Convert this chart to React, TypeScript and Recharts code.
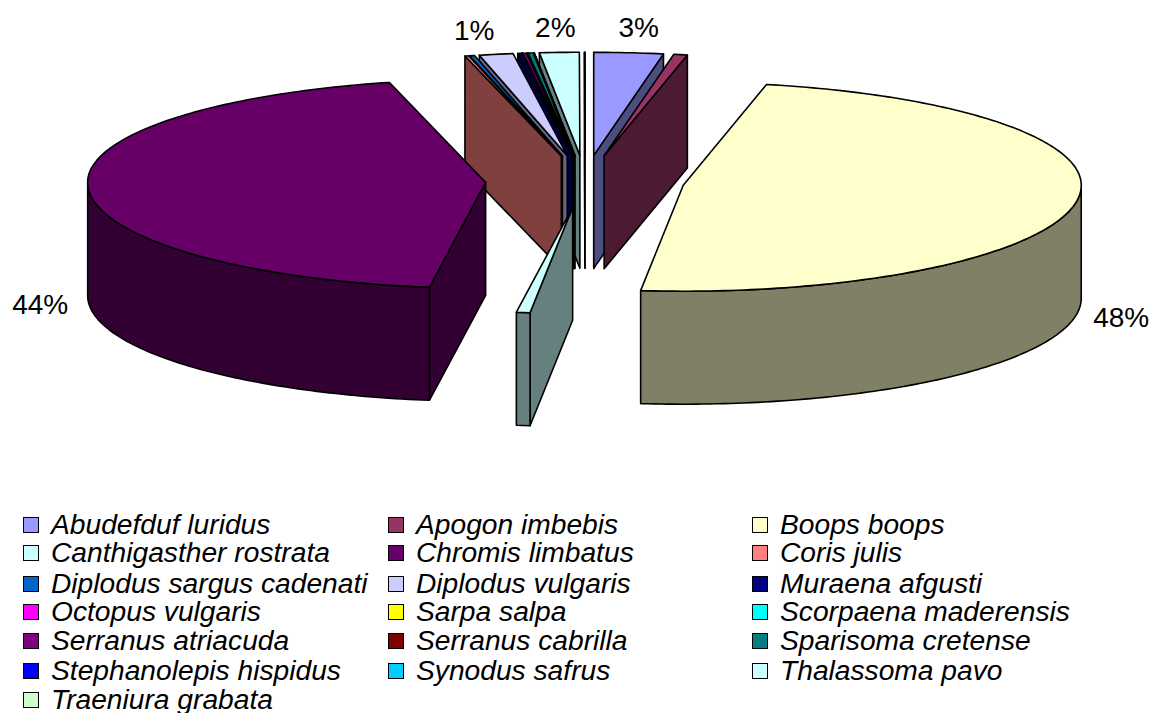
import { Legend, Pie, PieChart } from "recharts"

const speciesNames = [
  "Abudefduf luridus", "Apogon imbebis", "Boops boops",
  "Canthigasther rostrata", "Chromis limbatus", "Coris julis",
  "Diplodus sargus cadenati", "Diplodus vulgaris", "Muraena afgusti",
  "Octopus vulgaris", "Sarpa salpa", "Scorpaena maderensis",
  "Serranus atriacuda", "Serranus cabrilla", "Sparisoma cretense",
  "Stephanolepis hispidus", "Synodus safrus", "Thalassoma pavo",
  "Traeniura grabata",
]
const speciesShares = [
  2.8, 0.55, 48.3, 0.55, 43.8, 0.15, 0.2, 1.37, 0.14, 0.01, 0.01, 0.01, 0.14,
  0.02, 0.2, 0.01, 0.01, 1.6, 0.02,
]
const speciesColors = [
  "#9999FF", "#993366", "#FFFFCC", "#CCFFFF", "#660066", "#FF8080", "#0066CC",
  "#CCCCFF", "#000080", "#FF00FF", "#FFFF00", "#00FFFF", "#800080", "#800000",
  "#008080", "#0000FF", "#00CCFF", "#CCFFFF", "#CCFFCC",
]
const labelledSpecies = ["Abudefduf luridus", "Boops boops", "Chromis limbatus", "Diplodus vulgaris", "Thalassoma pavo"]

const data = speciesNames.map((name, i) => ({ name, value: speciesShares[i], fill: speciesColors[i] }))

// paint order, back to front: the top-left fan goes right to left, then the big slices
const paintOrder = [
  ...speciesNames.slice(5).reverse(),
  "Abudefduf luridus", "Apogon imbebis",
  "Boops boops", "Chromis limbatus", "Canthigasther rostrata",
]

const WIDTH = 1152
const HEIGHT = 713
const FONT = "'Liberation Sans', Arial, sans-serif"
const DEPTH = 113
const EXPLODE = 0.25
const RY_BACK = 103
const RY_FRONT = 106
const RAD = Math.PI / 180

const legendRows = [524, 552, 583, 611, 640, 670, 699]
const legendColumns = [23, 388, 752]

const labelNudge: Record<string, [number, number]> = {
  "Abudefduf luridus": [10, -25],
  "Boops boops": [45, 3],
  "Chromis limbatus": [-48, 4],
  "Diplodus vulgaris": [-22, -24],
  "Thalassoma pavo": [-4, -25],
}

// recharts angle (counter-clockwise from east) to a point on the tilted ellipse
function rim(angle: number, rx: number, k = 1) {
  const t = (90 - angle) * RAD
  const c = Math.cos(t)
  return { x: k * rx * Math.sin(t), y: -k * (c > 0 ? RY_BACK : RY_FRONT) * c }
}

function darker(hex: string) {
  const n = parseInt(hex.slice(1), 16)
  const half = (v: number) => Math.round(v / 2).toString(16).padStart(2, "0")
  return `#${half((n >> 16) & 255)}${half((n >> 8) & 255)}${half(n & 255)}`
}

function toPath(pts: { x: number; y: number }[]) {
  return pts.map((p, i) => `${i ? "L" : "M"}${p.x.toFixed(2)} ${p.y.toFixed(2)}`).join(" ") + " Z"
}

function sliceShape(only: string) {
  return function SliceShape(props: any) {
    const { name, startAngle, endAngle, cx, cy, outerRadius, fill } = props
    if (name !== only) return <g />
    const mid = (startAngle + endAngle) / 2
    const off = rim(mid, outerRadius, EXPLODE)
    const vx = cx + off.x
    const vy = cy + off.y
    const at = (angle: number) => {
      const p = rim(angle, outerRadius)
      return { x: vx + p.x, y: vy + p.y }
    }
    const down = (p: { x: number; y: number }) => ({ x: p.x, y: p.y + DEPTH })
    const v = { x: vx, y: vy }

    const arc: { x: number; y: number }[] = []
    const steps = Math.max(2, Math.ceil(Math.abs(startAngle - endAngle)))
    for (let i = 0; i <= steps; i++) arc.push(at(startAngle + ((endAngle - startAngle) * i) / steps))
    const a = arc[0]
    const b = arc[arc.length - 1]

    // a cut wall only shows when it turns toward the viewer
    const showStart = a.x <= vx + 0.5
    const showEnd = b.x >= vx - 0.5 && b.y < vy
    const front = arc.filter((p) => p.y >= vy)
    const side = darker(fill)
    const line = { stroke: "#000", strokeWidth: 1.6, strokeLinejoin: "round" as const }
    return (
      <g>
        {showStart && <path d={toPath([v, a, down(a), down(v)])} fill={side} {...line} />}
        {showEnd && <path d={toPath([v, b, down(b), down(v)])} fill={side} {...line} />}
        {front.length > 1 && (
          <path d={toPath([...front, ...[...front].reverse().map(down)])} fill={side} {...line} />
        )}
        <path d={toPath([v, ...arc])} fill={fill} {...line} />
      </g>
    )
  }
}

function renderLabel(props: any) {
  const { name, cx, cy, midAngle, outerRadius, percent } = props
  if (!labelledSpecies.includes(name)) return <g />
  const p = rim(midAngle, outerRadius, 1 + EXPLODE)
  const [dx, dy] = labelNudge[name]
  const y = cy + p.y + (p.y > 0 ? DEPTH : 0) + dy
  return (
    <text x={cx + p.x + dx} y={y} textAnchor="middle" dominantBaseline="central" fontFamily={FONT} fontSize={28} fill="#000">
      {Math.round(percent * 100)}%
    </text>
  )
}

function FishLegend() {
  return (
    <div style={{ position: "relative", width: WIDTH, height: HEIGHT, fontFamily: FONT, overflow: "hidden" }}>
      {speciesNames.map((name, i) => {
        const left = legendColumns[i % 3]
        const y = legendRows[Math.floor(i / 3)]
        return (
          <div key={name}>
            <div
              style={{
                position: "absolute", left, top: y - 7, width: 14, height: 14,
                background: speciesColors[i], border: "1.5px solid #000",
              }}
            />
            <div
              style={{
                position: "absolute", left: left + 28, top: y - 14, height: 28, lineHeight: "28px",
                fontSize: 28.2, fontStyle: "italic", color: "#000", whiteSpace: "nowrap",
              }}
            >
              {name}
            </div>
          </div>
        )
      })}
    </div>
  )
}

export default function App() {
  const pieProps = {
    data, dataKey: "value", nameKey: "name", cx: 585, cy: 181, outerRadius: 398, innerRadius: 0,
    startAngle: 90, endAngle: -270, isAnimationActive: false, labelLine: false,
  }
  return (
    <div style={{ position: "absolute", left: 0, top: 0, width: WIDTH, height: HEIGHT, background: "#fff" }}>
      <PieChart width={WIDTH} height={HEIGHT} margin={{ top: 0, right: 0, bottom: 0, left: 0 }}>
        {paintOrder.map((name, i) => (
          <Pie key={name} {...pieProps} shape={sliceShape(name)} label={i === paintOrder.length - 1 ? renderLabel : false} />
        ))}
        <Legend content={<FishLegend />} wrapperStyle={{ position: "absolute", left: 0, top: 0, width: WIDTH, height: HEIGHT, bottom: "auto" }} />
      </PieChart>
    </div>
  )
}
